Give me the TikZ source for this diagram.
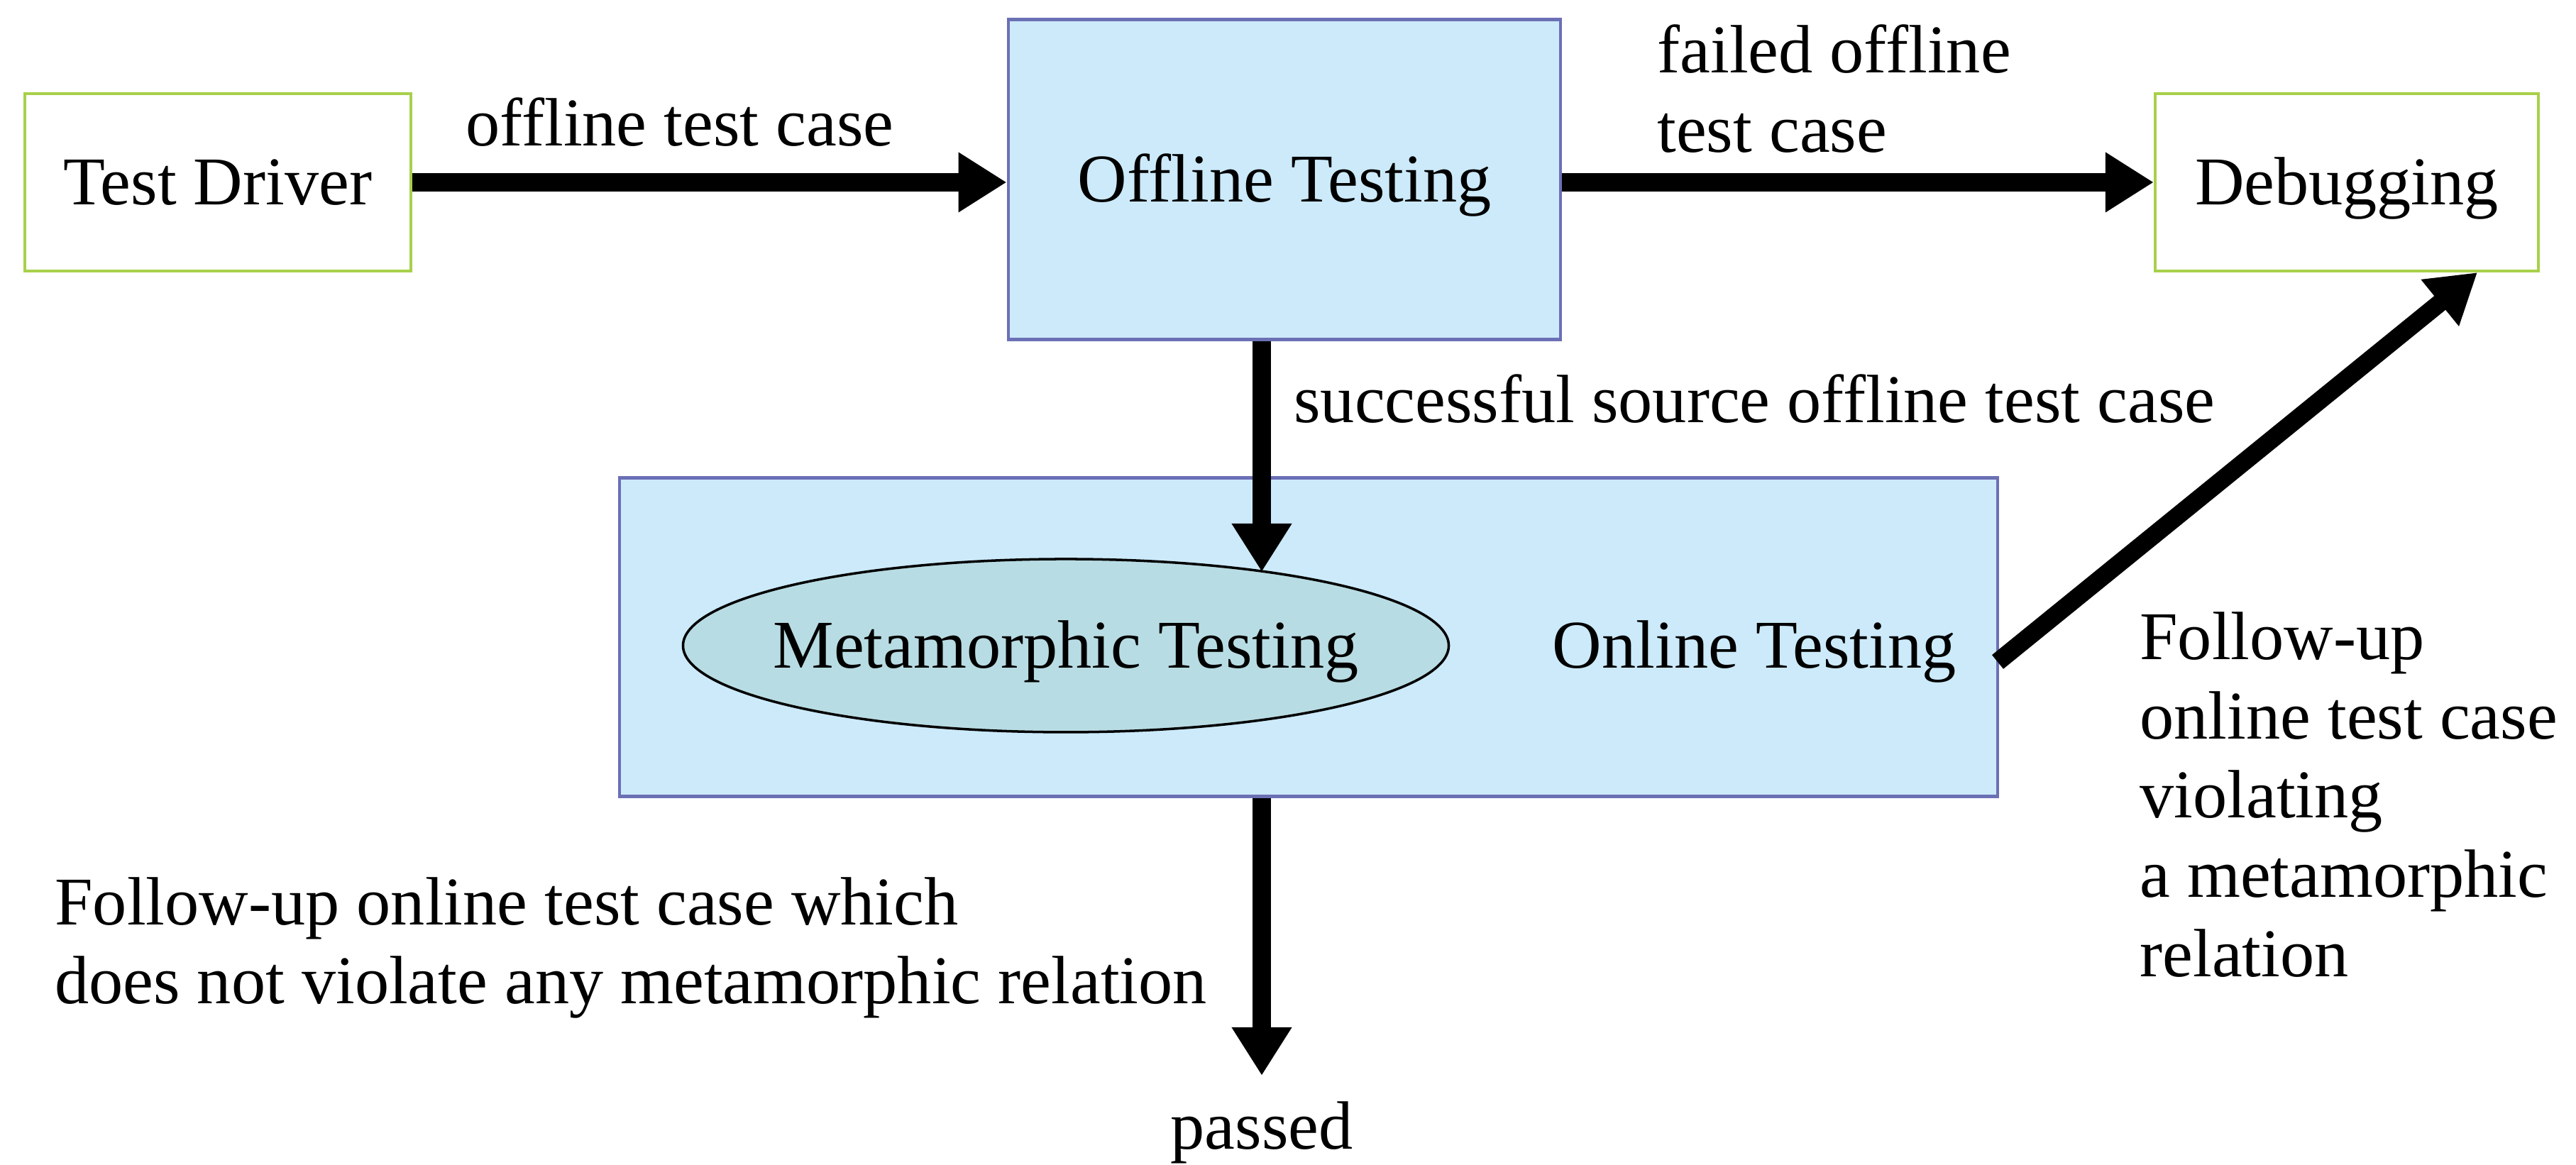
\documentclass[tikz,border=0pt]{standalone}
\usepackage{fontspec}
\setmainfont{Liberation Serif}
\usepackage{tikz}
\usetikzlibrary{calc,positioning,shapes.geometric,arrows.meta}
\definecolor{boxblue}{HTML}{CCEAFA}
\definecolor{edgeblue}{HTML}{6B70B5}
\definecolor{edgegreen}{HTML}{A8D04A}
\definecolor{ellfill}{HTML}{B8DCE3}

\begin{document}
\begin{tikzpicture}[
  every node/.style={font=\fontsize{13.7}{15.9}\selectfont},
  boxtext/.style={text height=0.9em,text depth=0pt},
  endbox/.style={boxtext,draw=edgegreen,line width=0.6pt,fill=white,minimum width=2.72cm,minimum height=1.25cm},
  testbox/.style={boxtext,draw=edgeblue,line width=0.7pt,fill=boxblue},
  flow/.style={line width=3.6pt,-{Triangle[width=0.4cm,length=0.34cm]}},
  lbl/.style={inner sep=0pt,align=left,anchor=west}]
\useasboundingbox (0,0) rectangle (18.15,8.21);
% boxes
\node[endbox] (drv) at (1.535,6.925) {Test Driver};
\node[testbox,minimum width=3.89cm,minimum height=2.255cm] (off) at (9.05,6.945) {Offline Testing};
\node[endbox,minimum width=2.70cm] (dbg) at (16.535,6.925) {Debugging};
\node[testbox,minimum width=9.71cm,minimum height=2.245cm] (onl) at (9.22,3.72) {};
\node[ellipse,draw,line width=0.5pt,fill=ellfill,boxtext,inner xsep=-0.155cm,minimum height=1.22cm] (met) at (7.51,3.66) {Metamorphic Testing};
\node[boxtext] (onlt) at (12.36,3.66) {Online Testing};
% free ends
\coordinate (mtop) at (8.89,4.18);
\coordinate (ostart) at (14.075,3.545);
\coordinate (dend) at ($(dbg.south)+(0.92,0)$);
\coordinate (pend) at (8.89,0.63);
\node[below=0.06cm of pend] (pass) {passed};
% arrows
\draw[flow] (drv.east) -- (drv.east -| off.west);
\draw[flow] (off.east |- dbg.west) -- (dbg.west);
\draw[flow] (off.south -| mtop) -- (mtop);
\draw[flow] (ostart) -- (dend);
\draw[flow] (onl.south -| pend) -- (pend);
% labels
\node at (4.79,7.35) {offline test case};
\node[lbl] at (11.67,7.585) {failed offline\\test case};
\node[lbl] at (9.11,5.4) {successful source offline test case};
\node[lbl] at (0.38,1.53) {Follow-up online test case which\\does not violate any metamorphic relation};
\node[lbl] at (15.07,2.61) {Follow-up\\online test case\\violating\\a metamorphic\\relation};
\end{tikzpicture}
\end{document}
